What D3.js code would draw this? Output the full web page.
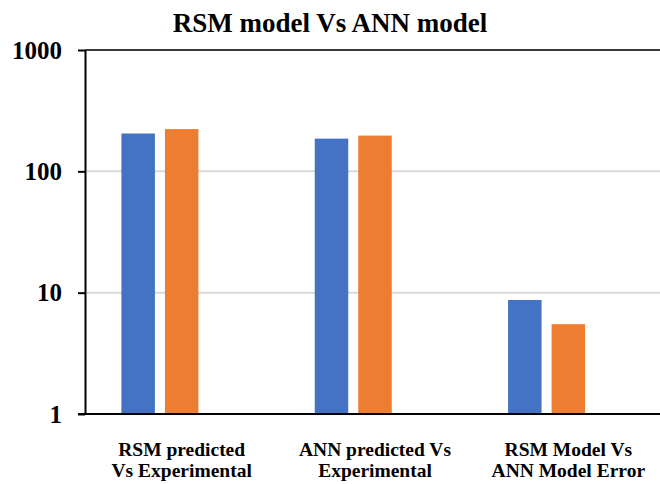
<!DOCTYPE html>
<html>
<head>
<meta charset="utf-8">
<script src="https://cdn.jsdelivr.net/npm/d3@7"></script>
<style>
  html, body { margin: 0; padding: 0; background: #fff; }
  svg { display: block; }
  text { font-family: "Liberation Serif", "Times New Roman", serif; font-weight: bold; fill: #000; }
</style>
</head>
<body>
<svg id="chart" width="660" height="484"></svg>
<script>
// Category labels (line breaks mark the wrapped second line)
const categories = [
  "RSM predicted\nVs Experimental",
  "ANN predicted Vs\nExperimental",
  "RSM Model Vs\nANN Model Error"
];
// Two bar series per category
const seriesA = [205, 186, 8.7];
const seriesB = [223, 197, 5.5];
const seriesColors = ["#4472C4", "#ED7D31"];
const yTicks = [1, 10, 100, 1000];
const titleText = "RSM model Vs ANN model";

const svg = d3.select("#chart");
const plotLeft = 85, plotRight = 665, plotTop = 50, plotBottom = 414;

const y = d3.scaleLog().domain([1, 1000]).range([plotBottom, plotTop]);
const x0 = d3.scaleBand().domain(categories).range([plotLeft, plotRight]).padding(0);
// Each cluster reserves three slots; two series occupy the first two
const x1 = d3.scaleBand().domain([0, 1, 2]).range([0, x0.bandwidth()])
  .paddingInner(0.23).paddingOuter(0.837);

// Gridlines
svg.append("g").selectAll("line")
  .data(yTicks.filter(v => v > 1))
  .join("line")
  .attr("x1", plotLeft).attr("x2", 660)
  .attr("y1", d => y(d)).attr("y2", d => y(d))
  .attr("stroke", d => d === 1000 ? "#3a3a3a" : "#d9d9d9")
  .attr("stroke-width", 2);

// Bars
const series = [seriesA, seriesB];
series.forEach((vals, si) => {
  svg.append("g").selectAll("rect")
    .data(vals)
    .join("rect")
    .attr("x", (d, i) => x0(categories[i]) + x1(si))
    .attr("width", x1.bandwidth())
    .attr("y", d => y(d))
    .attr("height", d => y(1) - y(d))
    .attr("fill", seriesColors[si]);
});

// Y axis
const yAxis = d3.axisLeft(y)
  .tickValues(yTicks)
  .tickFormat(d3.format("d"))
  .tickSize(7)
  .tickSizeOuter(0)
  .tickPadding(16);
const gy = svg.append("g").attr("transform", `translate(${plotLeft},0)`).call(yAxis);
gy.select(".domain").attr("stroke", "#000").attr("stroke-width", 2);
gy.selectAll(".tick line").attr("stroke", "#000").attr("stroke-width", 2);
gy.selectAll(".tick text")
  .attr("font-family", "Liberation Serif, serif")
  .attr("font-weight", "bold")
  .attr("font-size", 25)
  .attr("fill", "#000");

// X axis baseline
svg.append("line")
  .attr("x1", plotLeft - 7).attr("x2", 660)
  .attr("y1", plotBottom).attr("y2", plotBottom)
  .attr("stroke", "#000").attr("stroke-width", 2);

// Category labels, two lines each
const lab = svg.append("g").selectAll("text")
  .data(categories)
  .join("text")
  .attr("text-anchor", "middle")
  .attr("font-size", 19.5)
  .attr("x", d => x0(d) + x0.bandwidth() / 2)
  .attr("y", 456);
lab.selectAll("tspan")
  .data(d => d.split("\n"))
  .join("tspan")
  .attr("x", function() { return d3.select(this.parentNode).attr("x"); })
  .attr("dy", (d, i) => i === 0 ? 0 : 21)
  .text(d => d);

// Title
svg.append("text")
  .attr("x", 330).attr("y", 31.5)
  .attr("text-anchor", "middle")
  .attr("font-size", 27)
  .text(titleText);
</script>
</body>
</html>
